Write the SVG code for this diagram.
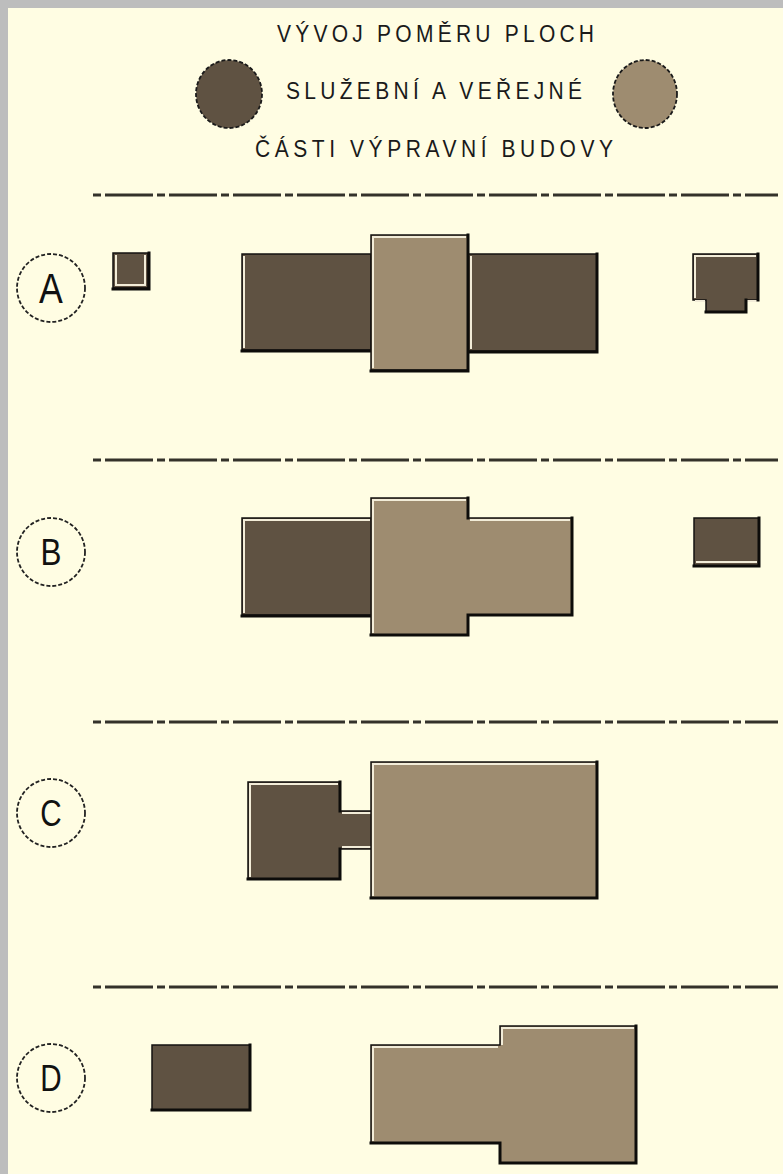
<svg xmlns="http://www.w3.org/2000/svg" width="783" height="1174" viewBox="0 0 783 1174">
<style>
.t{font-family:"Liberation Sans",Arial,sans-serif;font-size:21px;fill:#1a1a1a}
.lbl{font-family:"Liberation Sans",Arial,sans-serif;fill:#111;text-anchor:middle}
.dk{fill:#5f5242;stroke:#141210;stroke-width:1.5;stroke-linejoin:miter}
.lt{fill:#9e8c70;stroke:#141210;stroke-width:1.5;stroke-linejoin:miter}
.hl{fill:none;stroke:#f2ecd8;stroke-width:2}
.sh{fill:none;stroke:#0d0c0a;stroke-width:3;stroke-linecap:square}
.sep{stroke:#34322a;stroke-width:3;stroke-dasharray:8 4 48 4;fill:none}
.ring{fill:none;stroke:#222;stroke-width:1.8;stroke-dasharray:4 2}
</style>
<rect x="0" y="0" width="783" height="1174" fill="#fffde3"/>
<rect x="0" y="0" width="783" height="8" fill="#bdbdbd"/>
<rect x="0" y="0" width="8" height="1174" fill="#bdbdbd"/>

<g id="title">
<text class="t" x="277" y="0" textLength="317" lengthAdjust="spacing" transform="translate(0 42) scale(1 1.15)">VÝVOJ POMĚRU PLOCH</text>
<text class="t" x="286" y="0" textLength="296" lengthAdjust="spacing" transform="translate(0 99) scale(1 1.15)">SLUŽEBNÍ A VEŘEJNÉ</text>
<text class="t" x="255" y="0" textLength="358" lengthAdjust="spacing" transform="translate(0 157) scale(1 1.15)">ČÁSTI VÝPRAVNÍ BUDOVY</text>
</g>
<g id="legend-service"><ellipse cx="229" cy="94" rx="33" ry="34" fill="#5f5242" stroke="#1a1a1a" stroke-width="1.8" stroke-dasharray="4 2"/></g>
<g id="legend-public"><ellipse cx="645" cy="94" rx="32" ry="34" fill="#9e8c70" stroke="#1a1a1a" stroke-width="1.8" stroke-dasharray="4 2"/></g>

<g id="separators">
<line class="sep" x1="93" y1="195" x2="778" y2="195"/>
<line class="sep" x1="93" y1="460" x2="778" y2="460"/>
<line class="sep" x1="93" y1="722" x2="778" y2="722"/>
<line class="sep" x1="93" y1="987" x2="778" y2="987"/>
</g>

<g id="label-A"><circle class="ring" cx="51" cy="288" r="34"/><text class="lbl" x="51" y="303" font-size="42" transform="translate(51 0) scale(0.85 1) translate(-51 0)">A</text></g>
<g id="label-B"><circle class="ring" cx="51" cy="552" r="34"/><text class="lbl" x="51" y="565" font-size="37" transform="translate(51 0) scale(0.85 1) translate(-51 0)">B</text></g>
<g id="label-C"><circle class="ring" cx="51" cy="813" r="34"/><text class="lbl" x="51" y="826" font-size="37" transform="translate(51 0) scale(0.8 1) translate(-51 0)">C</text></g>
<g id="label-D"><circle class="ring" cx="51" cy="1078" r="34"/><text class="lbl" x="51" y="1091" font-size="37" transform="translate(51 0) scale(0.8 1) translate(-51 0)">D</text></g>

<!-- Section A -->
<g id="A-small-left">
<rect class="dk" x="113" y="253" width="35" height="35"/>
<path class="hl" d="M116,255 V285 H145 V255"/>
<path class="sh" d="M113,289 H149 V253"/>
</g>
<g id="A-main-left">
<rect class="dk" x="242" y="254" width="129" height="96"/>
<path class="hl" d="M244,348 V256"/>
<path class="sh" d="M242,351 H371"/>
</g>
<g id="A-main-right">
<rect class="dk" x="468" y="254" width="129" height="97"/>
<path class="hl" d="M471,349 V256"/>
<path class="sh" d="M468,352 H597 V254"/>
</g>
<g id="A-main-center">
<rect class="lt" x="371" y="235" width="97" height="135"/>
<path class="hl" d="M373,368 V237 H466"/>
<path class="sh" d="M371,371 H468 V235"/>
</g>
<g id="A-small-right">
<polygon class="dk" points="693,254 758,254 758,300 746,300 746,312 706,312 706,300 693,300"/>
<path class="hl" d="M695,298 V256 H756"/>
<path class="hl" d="M695,301 H705 M747,301 H757"/>
<path class="sh" d="M758,254 V300 M746,300 V312 H706"/>
</g>

<!-- Section B -->
<g id="B-main-left">
<rect class="dk" x="242" y="518" width="130" height="97"/>
<path class="hl" d="M244,613 V520 H370"/>
<path class="sh" d="M242,616 H372"/>
</g>
<g id="B-main-public">
<polygon class="lt" points="371,498 468,498 468,518 572,518 572,615 468,615 468,635 371,635"/>
<path class="hl" d="M373,633 V500 H466 M470,520 H570"/>
<path class="sh" d="M468,498 V518 M572,518 V615 H468 V635 H371"/>
</g>
<g id="B-small-right">
<rect class="dk" x="694" y="518" width="65" height="48"/>
<path class="hl" d="M696,562 H757"/>
<path class="sh" d="M694,566 H759 V518"/>
</g>

<!-- Section C -->
<g id="C-service">
<polygon class="dk" points="248,782 340,782 340,811 372,811 372,849 340,849 340,879 248,879"/>
<path class="hl" d="M250,877 V784 H338 M342,813 H371 M342,847 H371"/>
<path class="sh" d="M340,782 V811 M340,849 V879 H248"/>
</g>
<g id="C-public">
<rect class="lt" x="371" y="762" width="226" height="136"/>
<path class="hl" d="M373,896 V764 H595"/>
<path class="sh" d="M371,898 H597 V762"/>
</g>

<!-- Section D -->
<g id="D-service">
<rect class="dk" x="152" y="1045" width="98" height="65"/>
<path class="sh" d="M152,1110 H250 V1045"/>
</g>
<g id="D-public">
<polygon class="lt" points="371,1045 500,1045 500,1026 636,1026 636,1163 500,1163 500,1143 371,1143"/>
<path class="hl" d="M373,1141 V1047 H498 M502,1045 V1028 H634"/>
<path class="sh" d="M636,1026 V1163 H500 V1143 H371"/>
</g>
</svg>
